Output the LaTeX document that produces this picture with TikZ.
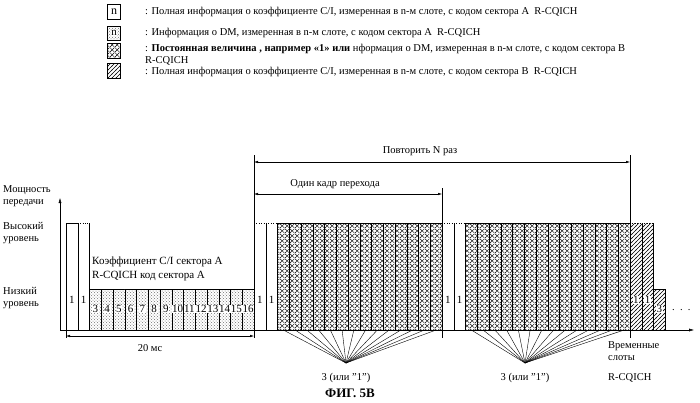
\documentclass[tikz,border=0pt]{standalone}
\usepackage{fontspec}
\setmainfont{Liberation Serif}
\usetikzlibrary{patterns,arrows.meta}

\pgfdeclarepatternformonly{bigcross}{\pgfpointorigin}{\pgfpoint{5pt}{5pt}}{\pgfpoint{5pt}{5pt}}{
    \pgfsetlinewidth{0.5pt}
    \pgfpathmoveto{\pgfpointorigin}\pgfpathlineto{\pgfpoint{5pt}{5pt}}
    \pgfpathmoveto{\pgfpoint{0pt}{5pt}}\pgfpathlineto{\pgfpoint{5pt}{0pt}}
    \pgfusepath{stroke}}
\pgfdeclarepatternformonly{bighatch}{\pgfpoint{-1pt}{-1pt}}{\pgfpoint{5pt}{5pt}}{\pgfpoint{4pt}{4pt}}{
    \pgfsetlinewidth{0.4pt}
    \pgfpathmoveto{\pgfpoint{-0.5pt}{-0.5pt}}\pgfpathlineto{\pgfpoint{4.5pt}{4.5pt}}
    \pgfusepath{stroke}}

\tikzset{
    dotslot/.style={draw, pattern=crosshatch dots, pattern color=black!55},
    crossslot/.style={draw, pattern=bigcross},
    hatchslot/.style={draw, pattern=bighatch},
    num/.style={fill=white, inner sep=0.6pt, font=\fontsize{11}{11}\selectfont},
    lbl/.style={anchor=west, font=\fontsize{10.5}{12}\selectfont, inner sep=0pt},
    dim/.style={{Latex[length=4pt,width=2.5pt]}-{Latex[length=4pt,width=2.5pt]}}
}

\begin{document}
\begin{tikzpicture}[x=1pt, y=-1pt]
    \useasboundingbox (0,0) rectangle (700,402);
    % Legend
    \node[draw, minimum width=13pt, minimum height=15pt, font=\fontsize{12}{12}\selectfont] (legA) at (114,12) {n};
    \node[dotslot, minimum width=13pt, minimum height=14pt] (legB) at (114,33) {};
    \node[num] at (legB) {n};
    \node[crossslot, minimum width=13pt, minimum height=15pt] (legC) at (114,51) {};
    \node[hatchslot, minimum width=13pt, minimum height=15pt] (legD) at (114,71) {};
    \node[lbl] (txtA) at (145,12) {: Полная информация о коэффициенте С/I, измеренная в n-м слоте, с кодом сектора A\ \ R-CQICH};
    \node[lbl] (txtB) at (145,33) {: Информация о DM, измеренная в n-м слоте, с кодом сектора A\ \ R-CQICH};
    \node[lbl] (txtC) at (145,49) {: \textbf{Постоянная величина , например «1» или} нформация о DM, измеренная в n-м слоте, с кодом сектора В};
    \node[lbl] (txtC2) at (145,61) {R-CQICH};
    \node[lbl] (txtD) at (145,72) {: Полная информация о коэффициенте С/I, измеренная в n-м слоте, с кодом сектора В\ \ R-CQICH};

    % Axes
    \coordinate (origin) at (60,330);
    \draw[-{Latex[length=5pt,width=3pt]}] (origin) -- (60,198) coordinate (ytop);
    \draw[-{Latex[length=5pt,width=3pt]}] (origin) -- (694,330) coordinate (xend);
    \node[lbl, align=left] (power) at (3,196) {Мощность\\передачи};
    \node[lbl, align=left] (high) at (3,233) {Высокий\\уровень};
    \node[lbl, align=left] (low) at (3,298) {Низкий\\уровень};

    % Frame of sector A
    \draw (66,330) rectangle (77.75,223);
    \node[num] at (71.9,300) {1};
    \draw (77.75,330) -- (77.75,223);
    \draw[dotted] (77.75,223) -- (89.5,223);
    \draw (89.5,330) -- (89.5,223);
    \node[num] at (83.6,300) {1};
    \foreach \k in {3,...,16} {
        \pgfmathsetmacro\xa{66+(\k-1)*11.75}
        \draw[dotslot] (\xa,330) rectangle ++(11.75,-41);
        \node[num] at (\xa+5.9,309) {\k};
    }
    \node[lbl, align=left, font=\fontsize{11}{14}\selectfont] (coefA) at (92,269) {Коэффициент С/I сектора A\\R-CQICH код сектора A};

    % Two repeated frames
    \foreach \f in {254,442} {
        \draw[dotted] (\f,223) -- (\f+23.5,223);
        \draw (\f+11.75,330) -- (\f+11.75,223);
        \draw (\f+23.5,330) -- (\f+23.5,223);
        \node[num] at (\f+5.9,300) {1};
        \node[num] at (\f+17.6,300) {1};
        \foreach \k in {3,...,16} {
            \draw[crossslot] (\f+\k*11.75-11.75,330) rectangle ++(11.75,-107);
        }
    }
    % Sector B
    \draw[dotted] (630,223) -- (653.5,223);
    \draw[hatchslot, draw=none] (630,330) rectangle ++(23.5,-107);
    \draw (641.75,330) -- (641.75,223) (653.5,330) -- (653.5,223);
    \node[num] at (635.9,300) {1};
    \node[num] at (647.6,300) {1};
    \draw[hatchslot] (653.5,330) rectangle ++(11.75,-41);
    \node[num] at (659.4,309) {3};
    \node[lbl] (dots) at (672,310) {.\ \ .\ \ .};

    % Frame boundaries and dimensions
    \draw (254,155) -- (254,338);
    \draw (442,188) -- (442,338);
    \draw (630,155) -- (630,338);
    \draw[dim] (66,336) -- (254,336);
    \draw (66,330) -- (66,338);
    \node[lbl, anchor=center] (ms) at (150,348) {20 мс};
    \draw[dim] (254,162) -- (630,162);
    \node[lbl, anchor=center] (rep) at (420,151) {Повторить N раз};
    \draw[dim] (254,194) -- (442,194);
    \node[lbl, anchor=center] (frm) at (335,184) {Один кадр перехода};

    % Fans
    \coordinate (fanA) at (346,363);
    \coordinate (fanB) at (525,363);
    \foreach \k in {3,...,16} {
        \draw (254+\k*11.75-5.9,330) -- (fanA);
        \draw (442+\k*11.75-5.9,330) -- (fanB);
    }
    \node[lbl, anchor=center] (valA) at (346,378) {3 (или "1")};
    \node[lbl, anchor=center] (valB) at (525,378) {3 (или "1")};
    \node[lbl, align=left] (slots) at (608,351) {Временные\\слоты};
    \node[lbl] (cqich) at (608,378) {R-CQICH};
    \node[font=\fontsize{13}{13}\selectfont\bfseries] (title) at (350,393) {ФИГ. 5B};
\end{tikzpicture}
\end{document}
